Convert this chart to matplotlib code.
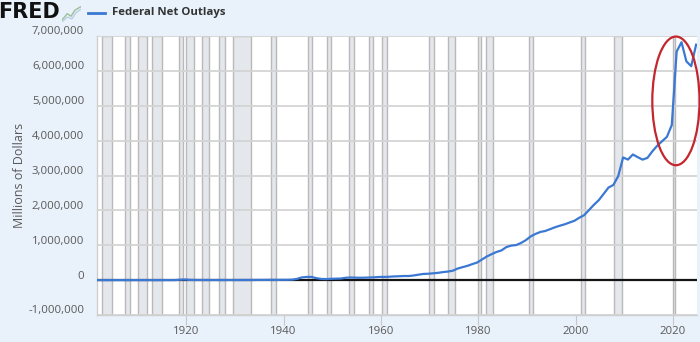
import matplotlib
matplotlib.use("Agg")
import matplotlib.pyplot as plt
import matplotlib.transforms as mtransforms
from matplotlib.patches import Ellipse
from matplotlib.lines import Line2D
from matplotlib.ticker import FuncFormatter

# Federal net outlays by fiscal year, millions of dollars
years = list(range(1901, 2025))
outlays = [
    525, 485, 517, 584, 567, 570, 579, 659, 694, 694,
    691, 690, 715, 726, 746, 713, 1954, 12677, 18493, 6358,
    5062, 3289, 3140, 2908, 2924, 2930, 2857, 2961, 3127, 3320,
    3577, 4659, 4598, 6541, 6412, 8228, 7580, 6840, 9141, 9468,
    13653, 35137, 78555, 91304, 92712, 55232, 34496, 29764, 38835, 42562,
    45514, 67686, 76101, 70855, 68444, 70640, 76578, 82405, 92098, 92191,
    97723, 106821, 111316, 118528, 118228, 134532, 157464, 178134, 183640, 195649,
    210172, 230681, 245707, 269359, 332332, 371792, 409218, 458746, 504028, 590941,
    678241, 745743, 808364, 851805, 946344, 990382, 1004017, 1064416, 1143743, 1252993,
    1324226, 1381529, 1409386, 1461752, 1515742, 1560484, 1601116, 1652458, 1701842, 1788950,
    1862846, 2010894, 2159899, 2292841, 2471957, 2655050, 2728686, 2982544, 3517677, 3457079,
    3603065, 3526563, 3454881, 3506284, 3691850, 3852612, 3981630, 4109042, 4446584, 6553603,
    6822461, 6273259, 6134672, 6752232,
]

# NBER recessions (decimal years)
rec_start = [1902.67, 1907.33, 1910.0, 1913.0, 1918.58, 1920.0, 1923.33, 1926.75,
             1929.58, 1937.33, 1945.08, 1948.83, 1953.5, 1957.58, 1960.25, 1969.92,
             1973.83, 1980.0, 1981.5, 1990.5, 2001.17, 2007.92, 2020.08]
rec_end = [1904.67, 1908.5, 1912.0, 1915.0, 1919.25, 1921.58, 1924.58, 1927.92,
           1933.25, 1938.5, 1945.83, 1949.83, 1954.42, 1958.33, 1961.17, 1970.92,
           1975.25, 1980.58, 1982.92, 1991.25, 2001.92, 2009.5, 2020.33]

x_ticks = [1920, 1940, 1960, 1980, 2000, 2020]
y_ticks = [-1_000_000, 0, 1_000_000, 2_000_000, 3_000_000, 4_000_000,
           5_000_000, 6_000_000, 7_000_000]
series_name = "Federal Net Outlays"
y_title = "Millions of Dollars"

BG = "#e9f1fa"
LINE = "#3b78d3"
GRID = "#d4d4d4"
TXT = "#595959"

plt.rcParams["font.family"] = ["Open Sans", "DejaVu Sans"]

fig = plt.figure(figsize=(7.0, 3.42), dpi=100, facecolor=BG)
ax = fig.add_axes([0.1381, 0.0789, 0.8576, 0.8158])
ax.set_facecolor("white")

# observations are dated at the end of the fiscal year
xs = [y + 0.75 for y in years]

for s, e in zip(rec_start, rec_end):
    ax.axvspan(s, e, facecolor="#e4e7eb", edgecolor="#b9b9b9", lw=1.0, zorder=1)

# horizontal grid drawn over the shading
for v in y_ticks:
    if v != 0:
        ax.axhline(v, color=GRID, lw=1.3, zorder=2)

ax.axhline(0, color="#141414", lw=1.6, zorder=3)
ax.plot(xs, outlays, color=LINE, lw=1.6, zorder=4, solid_joinstyle="round")

ax.set_xlim(1901.6, 2024.93)
ax.set_ylim(-1_000_000, 7_000_000)
ax.set_yticks(y_ticks)
ax.yaxis.set_major_formatter(FuncFormatter(lambda v, p: f"{v:,.0f}"))
ax.set_xticks(x_ticks)

for side in ("top", "right"):
    ax.spines[side].set_visible(False)
for side in ("left", "bottom"):
    ax.spines[side].set_color("#cfcfcf")
    ax.spines[side].set_linewidth(1.0)

ax.tick_params(axis="y", length=0, pad=9, labelsize=8.2, labelcolor=TXT)
ax.tick_params(axis="x", length=7, width=0.8, color="#c8c8c8", pad=1,
               labelsize=8.2, labelcolor=TXT)
shift = mtransforms.ScaledTranslation(0, 4 / 72, fig.dpi_scale_trans)
for lbl in ax.get_yticklabels():
    lbl.set_transform(lbl.get_transform() + shift)

ax.set_ylabel(y_title, fontsize=9, color=TXT)
ax.yaxis.set_label_coords(-0.118, 0.5)

# highlight around the pandemic spike
ring = Ellipse((2020.6, 5_140_000), width=9.7, height=3_690_000, fill=False,
               edgecolor="#c4262e", lw=1.6, zorder=6, clip_on=False)
ax.add_patch(ring)

# header: logo and legend
fig.text(-0.002, 0.964, "FRED", fontsize=15, fontweight="bold",
         family=["DejaVu Sans"], color="#111111",
         va="center", ha="left")
icon = fig.add_axes([0.088, 0.935, 0.027, 0.05])
icon.axis("off")
icon.plot([0, 0.3, 0.5, 0.7, 1.0], [0.1, 0.5, 0.35, 0.7, 0.9], color="#9bbf9b", lw=1.0)
icon.plot([0, 0.3, 0.55, 0.75, 1.0], [0.0, 0.3, 0.2, 0.55, 0.75], color="#b9cfe3", lw=1.0)
icon.set_xlim(0, 1)
icon.set_ylim(0, 1)
fig.add_artist(Line2D([0.126, 0.150], [0.962, 0.962], color=LINE, lw=2.0,
                      transform=fig.transFigure))
fig.text(0.160, 0.962, series_name, fontsize=8.2, fontweight="bold",
         color="#333333", va="center", ha="left")

fig.savefig("out.png", dpi=100, facecolor=BG)
